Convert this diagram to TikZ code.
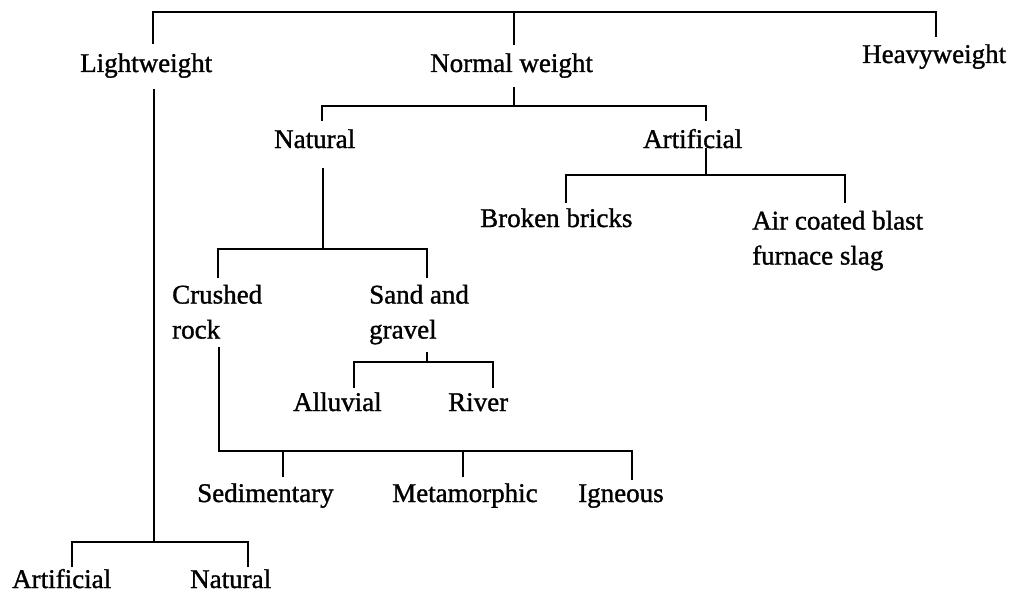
\documentclass[tikz,border=0pt]{standalone}
\usepackage{fontspec}
\setmainfont{Liberation Serif}[FakeBold=1.2]
\begin{document}
\begin{tikzpicture}[x=1pt,y=-1pt,
  lbl/.style={anchor=base west,inner sep=0pt,font=\fontsize{27}{35}\selectfont},
  mlbl/.style={anchor=north west,inner sep=0pt,align=left,font=\fontsize{27}{35}\selectfont},
  tree/.style={line width=2pt,line cap=butt,line join=miter}]
\useasboundingbox (0,0) rectangle (1010,594);
% labels
\node[lbl] (lw) at (80,72) {Lightweight};
\node[lbl] (nw) at (430,72) {Normal weight};
\node[lbl] (hw) at (862,63) {Heavyweight};
\node[lbl] (nat) at (274,148) {Natural};
\node[lbl] (art) at (643,148) {Artificial};
\node[lbl] (bb) at (480,227) {Broken bricks};
\node[mlbl] (acb) at (752,210.6) {Air coated blast\\furnace slag};
\node[mlbl] (cr) at (172,284.6) {Crushed\\rock};
\node[mlbl] (sg) at (369,284.6) {Sand and\\gravel};
\node[lbl] (all) at (293,411) {Alluvial};
\node[lbl] (riv) at (448,411) {River};
\node[lbl] (sed) at (197,502) {Sedimentary};
\node[lbl] (met) at (392,502) {Metamorphic};
\node[lbl] (ign) at (578,502) {Igneous};
\node[lbl] (lart) at (12,588) {Artificial};
\node[lbl] (lnat) at (190,588) {Natural};
% junction coordinates
\coordinate (t1) at (153,44);  \coordinate (t2) at (153,12);
\coordinate (t3) at (936,12);  \coordinate (t4) at (936,37);
\coordinate (t5) at (514,12);  \coordinate (t6) at (514,45);
\coordinate (l1) at (154,89);  \coordinate (l2) at (154,542);
\coordinate (l3) at (72,567);  \coordinate (l4) at (72,542);
\coordinate (l5) at (248,542); \coordinate (l6) at (248,567);
\coordinate (n1) at (514,87);  \coordinate (n2) at (514,106);
\coordinate (n3) at (322,121); \coordinate (n4) at (322,106);
\coordinate (n5) at (706,106); \coordinate (n6) at (706,121);
\coordinate (a1) at (323,168); \coordinate (a2) at (323,249);
\coordinate (a3) at (218,278); \coordinate (a4) at (218,249);
\coordinate (a5) at (427,249); \coordinate (a6) at (427,278);
\coordinate (b1) at (706,148); \coordinate (b2) at (706,175);
\coordinate (b3) at (566,203); \coordinate (b4) at (566,175);
\coordinate (b5) at (845,175); \coordinate (b6) at (845,203);
\coordinate (s1) at (427,352); \coordinate (s2) at (427,362);
\coordinate (s3) at (354,388); \coordinate (s4) at (354,362);
\coordinate (s5) at (493,362); \coordinate (s6) at (493,388);
\coordinate (c1) at (219,347); \coordinate (c2) at (219,451);
\coordinate (c3) at (632,451); \coordinate (c4) at (632,480);
\coordinate (c5) at (283,451); \coordinate (c6) at (283,477);
\coordinate (c7) at (463,451); \coordinate (c8) at (463,477);
% connectors
\draw[tree] (t1) -- (t2) -- (t3) -- (t4);
\draw[tree] (t5) -- (t6);
\draw[tree] (l1) -- (l2);
\draw[tree] (l3) -- (l4) -- (l5) -- (l6);
\draw[tree] (n1) -- (n2);
\draw[tree] (n3) -- (n4) -- (n5) -- (n6);
\draw[tree] (a1) -- (a2);
\draw[tree] (a3) -- (a4) -- (a5) -- (a6);
\draw[tree] (b1) -- (b2);
\draw[tree] (b3) -- (b4) -- (b5) -- (b6);
\draw[tree] (s1) -- (s2);
\draw[tree] (s3) -- (s4) -- (s5) -- (s6);
\draw[tree] (c1) -- (c2) -- (c3) -- (c4);
\draw[tree] (c5) -- (c6);
\draw[tree] (c7) -- (c8);
\end{tikzpicture}
\end{document}
